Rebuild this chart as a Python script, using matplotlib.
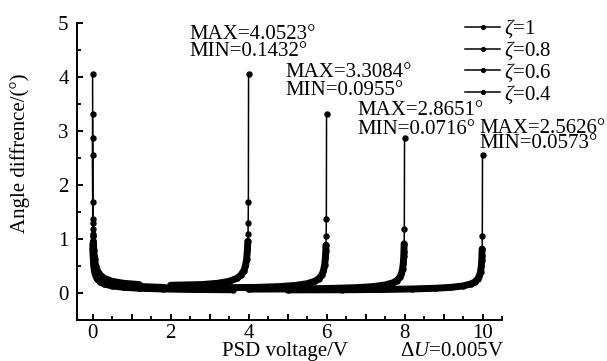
import matplotlib
matplotlib.use("Agg")
import matplotlib.pyplot as plt
from matplotlib.ticker import MultipleLocator, FuncFormatter

plt.rcParams['font.family'] = ['Liberation Serif', 'DejaVu Serif']
plt.rcParams['mathtext.fontset'] = 'custom'
plt.rcParams['mathtext.rm'] = 'Liberation Serif'
plt.rcParams['mathtext.it'] = 'Liberation Serif:italic'

labels = ["1", "0.8", "0.6", "0.4"]

x_z10 = [0, 0.005, 0.01, 0.015, 0.02, 0.03, 0.05, 0.08, 0.12, 0.2, 0.3, 0.5, 0.8, 1.2, 2,
         2.8, 3.2, 3.5, 3.7, 3.8, 3.88, 3.92, 3.95, 3.97, 3.98, 3.985, 3.99, 3.995, 4]
y_z10 = [4.052, 1.678, 1.288, 1.086, 0.957, 0.795, 0.625, 0.500, 0.415, 0.327, 0.271, 0.216, 0.179, 0.156, 0.143,
         0.156, 0.179, 0.216, 0.271, 0.327, 0.415, 0.500, 0.625, 0.795, 0.957, 1.086, 1.288, 1.678, 4.052]

x_z08 = [0, 0.005, 0.01, 0.015, 0.02, 0.03, 0.05, 0.08, 0.12, 0.2, 0.3, 0.5, 0.8, 1.2, 1.8, 3,
         4.2, 4.8, 5.2, 5.5, 5.7, 5.8, 5.88, 5.92, 5.95, 5.97, 5.98, 5.985, 5.99, 5.995, 6]
y_z08 = [3.308, 1.370, 1.051, 0.886, 0.781, 0.649, 0.511, 0.410, 0.337, 0.264, 0.218, 0.172, 0.140, 0.119, 0.104, 0.0955,
         0.104, 0.119, 0.140, 0.172, 0.218, 0.264, 0.337, 0.410, 0.511, 0.649, 0.781, 0.886, 1.051, 1.370, 3.308]

x_z06 = [0, 0.005, 0.01, 0.015, 0.02, 0.03, 0.05, 0.08, 0.12, 0.2, 0.3, 0.5, 0.8, 1.2, 1.8, 2.6, 4,
         5.4, 6.2, 6.8, 7.2, 7.5, 7.7, 7.8, 7.88, 7.92, 7.95, 7.97, 7.98, 7.985, 7.99, 7.995, 8]
y_z06 = [2.865, 1.187, 0.911, 0.768, 0.676, 0.562, 0.442, 0.355, 0.292, 0.228, 0.188, 0.148, 0.119, 0.100, 0.086, 0.076, 0.0716,
         0.076, 0.086, 0.100, 0.119, 0.148, 0.188, 0.228, 0.292, 0.355, 0.442, 0.562, 0.676, 0.768, 0.911, 1.187, 2.865]

x_z04 = [0, 0.005, 0.01, 0.015, 0.02, 0.03, 0.05, 0.08, 0.12, 0.2, 0.3, 0.5, 0.8, 1.2, 1.8, 2.6, 3.6, 5,
         6.4, 7.4, 8.2, 8.8, 9.2, 9.5, 9.7, 9.8, 9.88, 9.92, 9.95, 9.97, 9.98, 9.985, 9.99, 9.995, 10]
y_z04 = [2.563, 1.061, 0.814, 0.687, 0.605, 0.503, 0.396, 0.317, 0.260, 0.203, 0.167, 0.131, 0.105, 0.088, 0.0745, 0.0653, 0.0597, 0.0573,
         0.0597, 0.0653, 0.0745, 0.088, 0.105, 0.131, 0.167, 0.203, 0.260, 0.317, 0.396, 0.503, 0.605, 0.687, 0.814, 1.061, 2.563]

max_texts = ["MAX=4.0523°", "MAX=3.3084°", "MAX=2.8651°", "MAX=2.5626°"]
min_texts = ["MIN=0.1432°", "MIN=0.0955°", "MIN=0.0716°", "MIN=0.0573°"]

series = [(x_z10, y_z10), (x_z08, y_z08), (x_z06, y_z06), (x_z04, y_z04)]

W, H = 607, 361
fig = plt.figure(figsize=(W / 100, H / 100), dpi=100)
ax = fig.add_axes([77 / W, 1 - 320 / H, (502 - 77) / W, (320 - 23) / H])

FS = 15

for (xs, ys), lab in zip(series, labels):
    # dense band part (markers overlapping every 0.005 V)
    bx = [x for x, y in zip(xs, ys) if y < 1.0]
    by = [y for y in ys if y < 1.0]
    n = len(bx) // 2
    ax.plot(bx[:n], by[:n], color='black', lw=5.0, solid_capstyle='round', zorder=2)
    ax.plot(bx[n:], by[n:], color='black', lw=5.0, solid_capstyle='round', zorder=2)
    ax.plot(xs, ys, color='black', lw=1.1, marker='o', ms=3.6, zorder=3,
            label=r'$\zeta$=' + lab)

ax.set_xlim(-0.4, 10.5)
ax.set_ylim(-0.5, 5)
ax.spines['top'].set_visible(False)
ax.spines['right'].set_visible(False)
for s in ['left', 'bottom']:
    ax.spines[s].set_linewidth(1.4)

ax.xaxis.set_major_locator(MultipleLocator(1))
ax.xaxis.set_minor_locator(MultipleLocator(0.5))
ax.xaxis.set_major_formatter(FuncFormatter(lambda v, p: f"{int(round(v))}" if round(v) % 2 == 0 else ""))
ax.yaxis.set_major_locator(MultipleLocator(1))
ax.yaxis.set_minor_locator(MultipleLocator(0.5))
ax.tick_params(which='major', direction='in', length=4.5, width=1.4, labelsize=FS)
ax.tick_params(axis='y', which='major', pad=6)
ax.tick_params(axis='x', which='major', pad=3)
ax.tick_params(which='minor', direction='in', length=3, width=1.3)

fig.text(20 / W, 1 - 153 / H, "Angle diffrence/(°)", fontsize=FS, rotation=90,
         ha='center', va='center')
fig.text(285 / W, 1 - 356 / H, "PSD voltage/V", fontsize=FS, ha='center', va='baseline')
fig.text(400 / W, 1 - 356 / H, r"$\Delta$$\it{U}$=0.005V", fontsize=FS, ha='left', va='baseline')

ann_max = [(2.49, 4.70), (4.94, 4.00), (6.79, 3.30), (9.92, 2.96)]
ann_min = [(2.49, 4.38), (4.94, 3.66), (6.79, 2.95), (9.92, 2.68)]
for (mx, my), (nx, ny), t1, t2 in zip(ann_max, ann_min, max_texts, min_texts):
    ax.text(mx, my, t1, fontsize=FS, ha='left', va='baseline', clip_on=False)
    ax.text(nx, ny, t2, fontsize=FS, ha='left', va='baseline', clip_on=False)

leg = fig.legend(*ax.get_legend_handles_labels(), loc='upper left',
                 bbox_to_anchor=(465 / W, 1 - 18 / H), frameon=False, fontsize=FS,
                 handlelength=1.7, handletextpad=0.15, labelspacing=-0.02,
                 borderpad=0, borderaxespad=0, markerscale=0.75)

fig.savefig("out.png", dpi=100)
